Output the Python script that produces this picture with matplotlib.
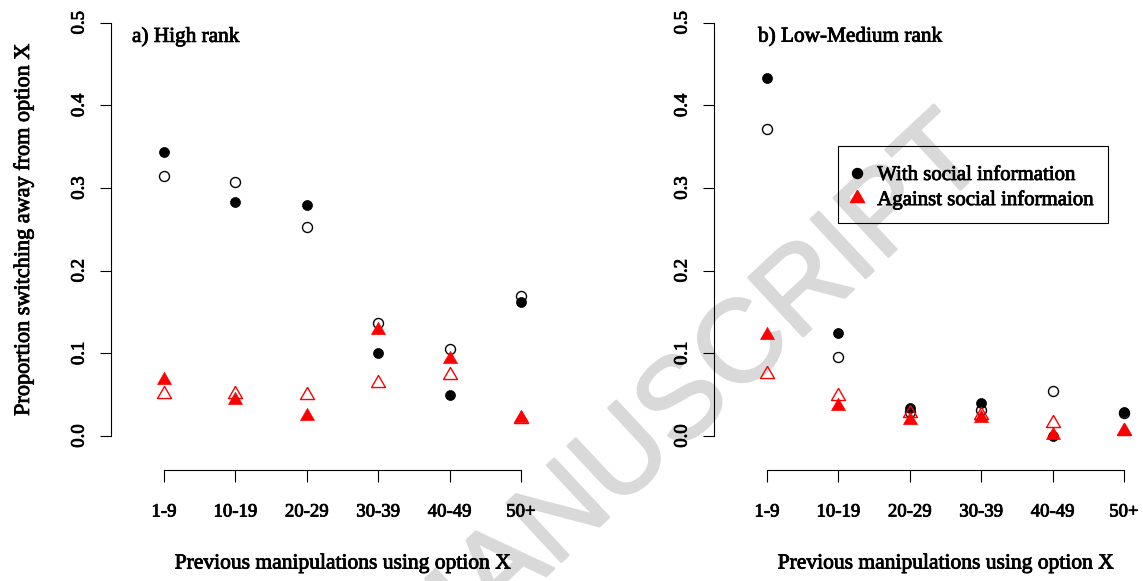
import numpy as np
import matplotlib.pyplot as plt
import matplotlib.transforms as mtransforms
import matplotlib.patheffects as pe
from matplotlib.lines import Line2D
from matplotlib.patches import Rectangle

plt.rcParams['font.family'] = ['Liberation Serif', 'DejaVu Serif']

groups = ['1-9', '10-19', '20-29', '30-39', '40-49', '50+']
x = np.arange(1, 7)

# a) High rank
high_with_filled = [0.344, 0.283, 0.280, 0.100, 0.050, 0.162]
high_with_open = [0.315, 0.307, 0.253, 0.137, 0.105, 0.169]
high_against_filled = [0.068, 0.044, 0.024, 0.128, 0.093, 0.022]
high_against_open = [0.051, 0.051, 0.050, 0.064, 0.074, 0.021]

# b) Low-Medium rank
low_with_filled = [0.433, 0.125, 0.034, 0.040, 0.000, 0.029]
low_with_open = [0.371, 0.095, 0.029, 0.031, 0.055, 0.028]
low_against_filled = [0.122, 0.036, 0.019, 0.022, 0.001, 0.006]
low_against_open = [0.075, 0.048, 0.028, 0.025, 0.016, 0.006]

W, H = 1143, 581
fig = plt.figure(figsize=(W / 100, H / 100), dpi=100)

tri = [(0, 1), (0.866, -0.5), (-0.866, -0.5), (0, 1)]
ms_c = 7.2
ms_t = 11.6
red = '#ff0000'
heavy = [pe.withStroke(linewidth=0.6, foreground='black')]

# watermark
fig.text(990 / W, 1 - 162 / H, 'ACCEPTED MANUSCRIPT', fontsize=84,
         family='Liberation Sans', color='#d9d9d9', rotation=43,
         rotation_mode='anchor', ha='right', va='baseline', zorder=-5,
         path_effects=[pe.withStroke(linewidth=1.8, foreground='#d9d9d9')])

ppu = 71.4      # pixels per category
ypu = 826.6     # pixels per unit proportion


def panel(left_px, series, title, title_off, with_ylabel):
    right_px = min(left_px + 463, W)
    ax = fig.add_axes([left_px / W, (H - 470) / H, (right_px - left_px) / W, 470 / H])
    ax.set_facecolor('none')
    x0 = 1 - 53 / ppu
    ax.set_xlim(x0, x0 + (right_px - left_px) / ppu)
    ax.set_ylim(-(470 - 436) / ypu, 436 / ypu)

    wf, wo, af, ao = series
    ax.plot(x, wo, 'o', ms=ms_c, mfc='none', mec='black', mew=1.0, ls='none')
    ax.plot(x, wf, 'o', ms=ms_c, mfc='black', mec='black', mew=0.5, ls='none')
    ax.plot(x, ao, marker=tri, ms=ms_t, mfc='none', mec=red, mew=1.0, ls='none')
    ax.plot(x, af, marker=tri, ms=ms_t, mfc=red, mec=red, mew=0.5, ls='none')

    for s in ['top', 'right']:
        ax.spines[s].set_visible(False)
    ax.spines['left'].set_bounds(0, 0.5)
    ax.spines['bottom'].set_bounds(1, 6)
    for s in ['left', 'bottom']:
        ax.spines[s].set_linewidth(0.8)

    ax.set_xticks(x)
    ax.set_xticklabels(groups, fontsize=13.5)
    ax.set_yticks(np.arange(0, 0.51, 0.1))
    ax.set_yticklabels(['%.1f' % v for v in np.arange(0, 0.51, 0.1)],
                       fontsize=13.5, rotation=90, va='center')
    ax.tick_params(axis='x', length=8.6, width=0.8, pad=15.5)
    ax.tick_params(axis='y', length=7.9, width=0.8, pad=9)
    for t in ax.get_xticklabels() + ax.get_yticklabels():
        t.set_path_effects(heavy)

    blend = mtransforms.blended_transform_factory(ax.transAxes, ax.transData)
    ax.annotate(title, xy=(0, 0.4827), xycoords=blend,
                xytext=(title_off, 0), textcoords='offset pixels',
                ha='left', va='center', fontsize=15.3, path_effects=heavy)
    ax.annotate('Previous manipulations using option X', xy=(3.5, 0),
                xycoords=ax.get_xaxis_transform(), xytext=(0, -94),
                textcoords='offset pixels', ha='center', va='center',
                fontsize=15.5, path_effects=heavy)
    if with_ylabel:
        ax.annotate('Proportion switching away from option X', xy=(0, 0.25),
                    xycoords=blend, xytext=(-87, 0), textcoords='offset pixels',
                    rotation=90, ha='center', va='center', fontsize=16,
                    path_effects=heavy)
    return ax


ax1 = panel(111, (high_with_filled, high_with_open, high_against_filled, high_against_open),
            'a) High rank', 21, True)
ax2 = panel(714, (low_with_filled, low_with_open, low_against_filled, low_against_open),
            'b) Low-Medium rank', 44, False)

# legend box (R style, transparent)
fig.patches.append(Rectangle((838 / W, 1 - 223 / H), 270 / W, 77 / H,
                             transform=fig.transFigure, fill=False,
                             edgecolor='black', linewidth=0.8))
handles = [Line2D([], [], ls='none', marker='o', ms=ms_c, mfc='black', mec='black'),
           Line2D([], [], ls='none', marker=tri, ms=ms_t, mfc=red, mec=red)]
leg = fig.legend(handles, ['With social information', 'Against social informaion'],
                 loc='upper left', bbox_to_anchor=(829.5 / W, 1 - 146 / H),
                 borderaxespad=0, fontsize=15, frameon=False,
                 borderpad=0.93, handlelength=0.8, handletextpad=0.56,
                 labelspacing=0.25)
for t in leg.get_texts():
    t.set_path_effects(heavy)

fig.savefig('out.png', dpi=100)
